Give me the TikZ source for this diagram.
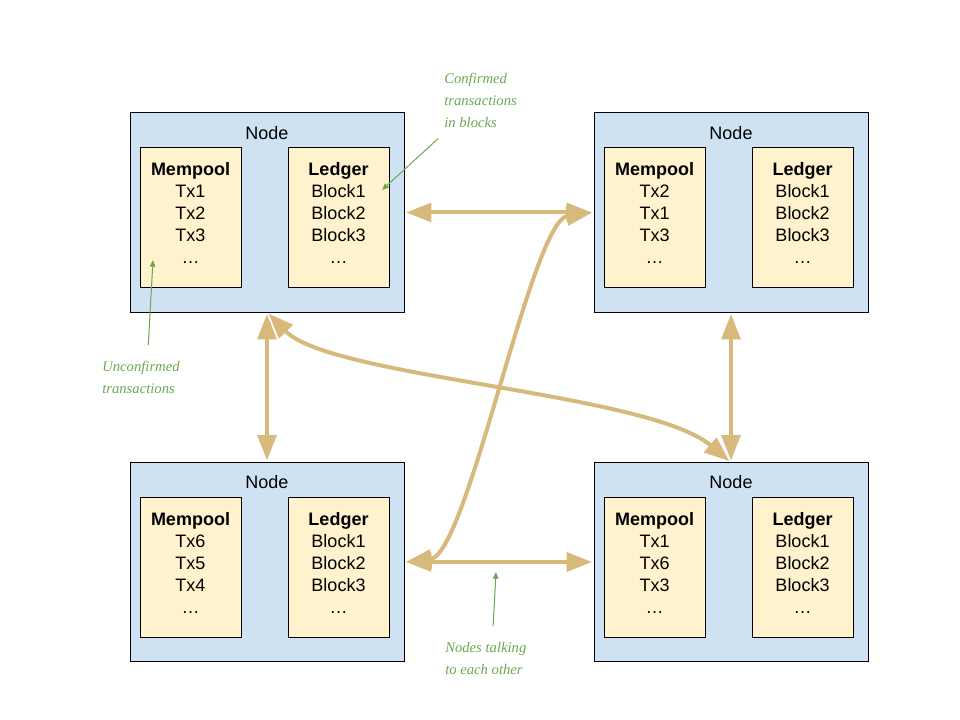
\documentclass[tikz,border=0pt]{standalone}
\usepackage{fontspec}
\setmainfont{Liberation Sans}
\newfontfamily\notefont{Liberation Serif}
\usetikzlibrary{arrows.meta}

\definecolor{nodeblue}{HTML}{CFE2F3}
\definecolor{poolyellow}{HTML}{FFF2CC}
\definecolor{linktan}{HTML}{D6B97B}
\definecolor{notegreen}{HTML}{6AA84F}

% one peer: outer box, title, mempool and ledger
\newcommand{\chainnode}[4]{%
  \node[nodebox] (#1) at (#2,#3) {};
  \node[titletext] (#1title) at (#2,#3-79.5) {Node};
  \node[innerbox] (#1pool) at (#2-76.5,#3+5.5) {};
  \node[innerbox] (#1ledger) at (#2+71.5,#3+5.5) {};
  \node[listtext] (#1pooltxt) at (#2-76.5,#3+0.5) {\textbf{Mempool}\\#4\\…};
  \node[listtext] (#1ledgertxt) at (#2+71.5,#3+0.5) {\textbf{Ledger}\\Block1\\Block2\\Block3\\…};
}

\begin{document}
\begin{tikzpicture}[x=0.75pt, y=-0.75pt,
    nodebox/.style={draw=black, line width=0.75pt, fill=nodeblue, minimum width=205.5pt, minimum height=149.25pt, inner sep=0pt, outer sep=0pt},
    innerbox/.style={draw=black, line width=0.75pt, fill=poolyellow, minimum width=75.75pt, minimum height=105pt, inner sep=0pt, outer sep=0pt},
    titletext/.style={inner sep=0pt, font=\fontsize{13.5pt}{16.5pt}\selectfont},
    listtext/.style={inner sep=0pt, align=center, font=\fontsize{13.5pt}{16.5pt}\selectfont},
    link/.style={draw=linktan, line width=3pt, >={Triangle[length=19pt,width=14pt]}, <->, shorten >=1.5pt, shorten <=1.5pt},
    note/.style={text=notegreen, inner sep=0pt, anchor=north west, align=left, font=\notefont\itshape\fontsize{11pt}{16.5pt}\selectfont},
    notearrow/.style={draw=notegreen, line width=0.75pt, -{Triangle[length=5pt,width=4pt]}}]
  \useasboundingbox (0,0) rectangle (960,720);

  \chainnode{nodeA}{267}{212.5}{Tx1\\Tx2\\Tx3}
  \chainnode{nodeB}{731}{212.5}{Tx2\\Tx1\\Tx3}
  \chainnode{nodeC}{267}{562}{Tx6\\Tx5\\Tx4}
  \chainnode{nodeD}{731}{562}{Tx1\\Tx6\\Tx3}

  % links between peers
  \draw[link] (nodeA.east) -- (nodeB.west);
  \draw[link] (nodeC.east) -- (nodeD.west);
  \draw[link] (nodeA.south) -- (nodeC.north);
  \draw[link] (nodeB.south) -- (nodeD.north);
  \draw[link] (nodeA.south) .. controls +(64,66) and +(-83,-70) .. (nodeD.north);
  \draw[link] (nodeC.east) .. controls +(64,-7) and +(-63,8) .. (nodeB.west);

  % notes
  \node[note] (confNote) at (444,73) {Confirmed\\transactions\\in blocks};
  \node[note] (unconfNote) at (102,361) {Unconfirmed\\transactions};
  \node[note] (talkNote) at (445,642) {Nodes talking\\to each other};
  \coordinate (confTip) at (382,190);
  \coordinate (unconfTip) at (153,260);
  \coordinate (talkTip) at (496,572);
  \draw[notearrow] ([xshift=-4.5pt, yshift=-8pt]confNote.south west) -- (confTip);
  \draw[notearrow] ([xshift=5.5pt, yshift=12pt]unconfNote.north) -- (unconfTip);
  \draw[notearrow] ([xshift=5.5pt, yshift=12pt]talkNote.north) -- (talkTip);
\end{tikzpicture}
\end{document}
